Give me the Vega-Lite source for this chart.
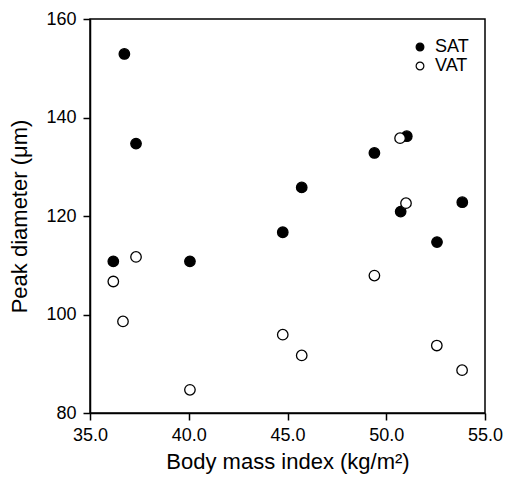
{
  "$schema": "https://vega.github.io/schema/vega-lite/v6.json",
  "autosize": {"type": "none"},
  "padding": {"left": 90, "top": 19, "right": 23, "bottom": 71},
  "width": 395,
  "height": 394,
  "background": "white",
  "config": {
    "font": "Liberation Sans",
    "view": {"stroke": "black", "strokeWidth": 1.5},
    "axis": {
      "domainColor": "black", "domainWidth": 1.5, "tickColor": "black", "tickWidth": 1.5,
      "tickSize": 7, "grid": false, "labelColor": "black", "labelFontSize": 18,
      "titleColor": "black", "titleFontSize": 22, "titleFontWeight": "normal", "labelFont": "Liberation Sans", "titleFont": "Liberation Sans"
    }
  },
  "data": {
    "values": [
      {"bmi": 36.18, "d": 110.8, "type": "SAT"},
      {"bmi": 36.74, "d": 152.9, "type": "SAT"},
      {"bmi": 37.33, "d": 134.7, "type": "SAT"},
      {"bmi": 40.06, "d": 110.8, "type": "SAT"},
      {"bmi": 44.76, "d": 116.7, "type": "SAT"},
      {"bmi": 45.72, "d": 125.8, "type": "SAT"},
      {"bmi": 49.4, "d": 132.8, "type": "SAT"},
      {"bmi": 50.73, "d": 120.9, "type": "SAT"},
      {"bmi": 51.04, "d": 136.2, "type": "SAT"},
      {"bmi": 52.57, "d": 114.7, "type": "SAT"},
      {"bmi": 53.85, "d": 122.8, "type": "SAT"},
      {"bmi": 36.18, "d": 106.7, "type": "VAT"},
      {"bmi": 36.67, "d": 98.6, "type": "VAT"},
      {"bmi": 37.33, "d": 111.7, "type": "VAT"},
      {"bmi": 40.06, "d": 84.7, "type": "VAT"},
      {"bmi": 44.76, "d": 95.9, "type": "VAT"},
      {"bmi": 45.72, "d": 91.7, "type": "VAT"},
      {"bmi": 49.4, "d": 107.9, "type": "VAT"},
      {"bmi": 50.7, "d": 135.8, "type": "VAT"},
      {"bmi": 51.0, "d": 122.6, "type": "VAT"},
      {"bmi": 52.56, "d": 93.7, "type": "VAT"},
      {"bmi": 53.84, "d": 88.7, "type": "VAT"}
    ]
  },
  "mark": {"type": "point", "shape": "circle", "filled": false, "stroke": "black", "strokeWidth": 1.3, "size": 110, "opacity": 1},
  "encoding": {
    "x": {"field": "bmi", "type": "quantitative", "title": "Body mass index (kg/m²)",
      "scale": {"domain": [35, 55], "nice": false, "zero": false},
      "axis": {"values": [35, 40, 45, 50, 55], "format": ".1f", "labelPadding": 6, "titlePadding": 7, "labelFlush": false}},
    "y": {"field": "d", "type": "quantitative", "title": "Peak diameter (μm)",
      "scale": {"domain": [80, 160], "nice": false, "zero": false},
      "axis": {"values": [80, 100, 120, 140, 160], "labelPadding": 7, "titlePadding": 14}},
    "fill": {"field": "type", "type": "nominal",
      "scale": {"domain": ["SAT", "VAT"], "range": ["black", "white"]},
      "legend": {"title": null, "orient": "none", "legendX": 321, "legendY": 19,
        "symbolStrokeColor": "black", "symbolStrokeWidth": 1.2, "symbolSize": 60, "symbolType": "circle",
        "labelFontSize": 18, "labelColor": "black", "rowPadding": 1, "labelOffset": 6}}
  }
}
